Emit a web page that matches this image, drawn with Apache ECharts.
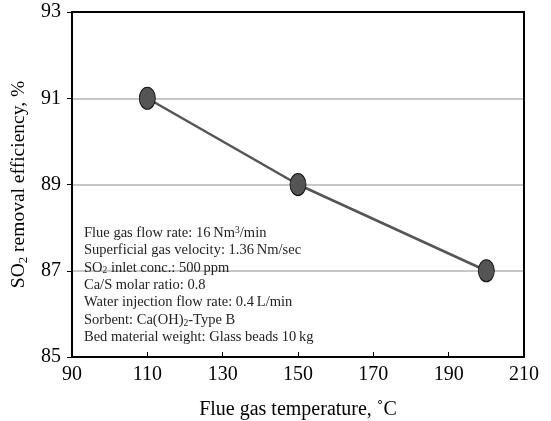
<!DOCTYPE html>
<html>
<head>
<meta charset="utf-8">
<script src="https://cdn.jsdelivr.net/npm/echarts@6/dist/echarts.min.js"></script>
<style>
  html, body { margin: 0; padding: 0; background: #fff; }
  #chart { width: 551px; height: 421px; }
</style>
</head>
<body>
<div id="chart"></div>
<script>
// data
var temps = [110, 150, 200];
var removal = [91, 89, 87];
var xTicks = [90, 110, 130, 150, 170, 190, 210];
var yTicks = [85, 87, 89, 91, 93];
var notes = [
  'Flue gas flow rate: 16\u2009Nm{sup|3}/min',
  'Superficial gas velocity: 1.36\u2009Nm/sec',
  'SO{sub|2} inlet conc.: 500\u2009ppm',
  'Ca/S molar ratio: 0.8',
  'Water injection flow rate: 0.4\u2009L/min',
  'Sorbent: Ca(OH){sub|2}-Type B',
  'Bed material weight: Glass beads 10\u2009kg'
];

var serif = 'Liberation Serif';
var myChart = echarts.init(document.getElementById('chart'));

var noteGraphics = notes.map(function (t, i) {
  return {
    type: 'text',
    left: 84,
    top: 225 + i * 17.4,
    style: {
      text: t,
      fill: '#222',
      font: '14.5px ' + serif,
      lineHeight: 16,
      rich: {
        sup: { fontSize: 9.5, fontFamily: serif, lineHeight: 10, padding: [0, 0, 6, 0], fill: '#222' },
        sub: { fontSize: 9.5, fontFamily: serif, lineHeight: 10, padding: [6, 0, 0, 0], fill: '#222' }
      }
    },
    z: 10
  };
});

var frameAxis = {
  type: 'value',
  axisLine: { show: true, lineStyle: { color: '#000', width: 2 } },
  axisTick: { show: false },
  axisLabel: { show: false },
  splitLine: { show: false }
};

var option = {
  animation: false,
  backgroundColor: '#fff',
  grid: { left: 72, right: 27, top: 12, bottom: 64, containLabel: false, outerBoundsMode: 'none' },
  graphic: noteGraphics,
  xAxis: [{
    type: 'value',
    min: xTicks[0],
    max: xTicks[xTicks.length - 1],
    interval: 20,
    name: 'Flue gas temperature, \u02DAC',
    nameLocation: 'middle',
    nameGap: 43,
    nameTextStyle: { fontFamily: serif, fontSize: 20, color: '#000' },
    axisLine: { lineStyle: { color: '#000', width: 2 } },
    axisTick: { inside: true, length: 5, lineStyle: { color: '#000', width: 1 } },
    axisLabel: { fontFamily: serif, fontSize: 20, color: '#000', margin: 8 },
    splitLine: { show: false }
  }, Object.assign({}, frameAxis, {
    position: 'top', min: xTicks[0], max: xTicks[xTicks.length - 1]
  })],
  yAxis: [{
    type: 'value',
    min: yTicks[0],
    max: yTicks[yTicks.length - 1],
    interval: 2,
    name: '{a|SO}{s|2}{a| removal efficiency, %}',
    nameLocation: 'middle',
    nameGap: 30,
    nameTextStyle: {
      fontFamily: serif, fontSize: 19.5, color: '#000',
      rich: {
        a: { fontFamily: serif, fontSize: 19.5, color: '#000', lineHeight: 22 },
        s: { fontFamily: serif, fontSize: 13, color: '#000', lineHeight: 13, padding: [9, 0, 0, 0] }
      }
    },
    axisLine: { lineStyle: { color: '#000', width: 2 } },
    axisTick: { inside: false, length: 5, lineStyle: { color: '#000', width: 1 } },
    axisLabel: { fontFamily: serif, fontSize: 20, color: '#000', margin: 11 },
    splitLine: { show: true, showMinLine: false, showMaxLine: false, lineStyle: { color: '#c8c8c8', width: 2 } }
  }, Object.assign({}, frameAxis, {
    position: 'right', min: yTicks[0], max: yTicks[yTicks.length - 1]
  })],
  series: [{
    type: 'line',
    data: temps.map(function (t, i) { return [t, removal[i]]; }),
    symbol: 'path://M50,0 A50,70 0 1,1 50,140 A50,70 0 1,1 50,0 Z',
    symbolSize: [16, 22],
    itemStyle: { color: '#555', borderColor: '#111', borderWidth: 1 },
    lineStyle: { color: '#555', width: 2.5 },
    z: 5
  }]
};

myChart.setOption(option);
</script>
</body>
</html>
